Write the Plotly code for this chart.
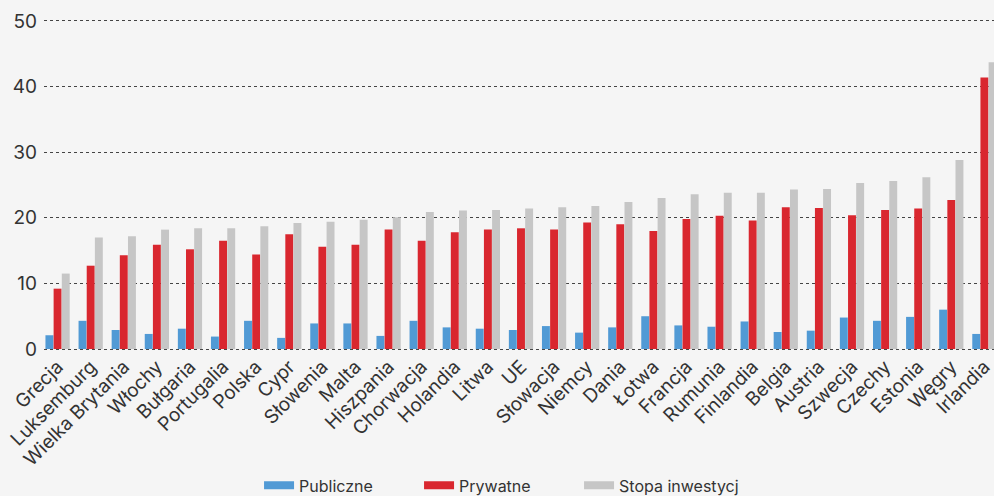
import plotly.graph_objects as go

countries = ["Grecja", "Luksemburg", "Wielka Brytania", "Włochy", "Bułgaria", "Portugalia",
             "Polska", "Cypr", "Słowenia", "Malta", "Hiszpania", "Chorwacja", "Holandia",
             "Litwa", "UE", "Słowacja", "Niemcy", "Dania", "Łotwa", "Francja", "Rumunia",
             "Finlandia", "Belgia", "Austria", "Szwecja", "Czechy", "Estonia", "Węgry", "Irlandia"]
publiczne = [2.1, 4.3, 2.9, 2.3, 3.1, 1.9, 4.3, 1.7, 3.9, 3.9, 2.0, 4.3, 3.3, 3.1, 2.9,
             3.5, 2.5, 3.3, 5.0, 3.6, 3.4, 4.2, 2.6, 2.8, 4.8, 4.3, 4.9, 6.0, 2.3]
prywatne = [9.2, 12.7, 14.3, 15.9, 15.2, 16.5, 14.4, 17.5, 15.6, 15.9, 18.2, 16.5, 17.8,
            18.2, 18.4, 18.2, 19.3, 19.0, 18.0, 19.8, 20.3, 19.6, 21.6, 21.5, 20.4, 21.2,
            21.4, 22.7, 41.4]
stopa = [11.5, 17.0, 17.2, 18.2, 18.4, 18.4, 18.7, 19.2, 19.4, 19.7, 20.1, 20.9, 21.1,
         21.2, 21.4, 21.6, 21.8, 22.4, 23.0, 23.6, 23.8, 23.8, 24.3, 24.4, 25.3, 25.6,
         26.2, 28.8, 43.7]
y_ticks = [0, 10, 20, 30, 40, 50]

names = ["Publiczne", "Prywatne", "Stopa inwestycji"]
colors = ["#519ad5", "#d9272f", "#c6c6c6"]
series = [publiczne, prywatne, stopa]

fig = go.Figure()
for name, col, vals in zip(names, colors, series):
    fig.add_trace(go.Bar(x=countries, y=vals, name=name, marker_color=col,
                         marker_line_width=0, showlegend=False))
for name, col in zip(names, colors):
    fig.add_trace(go.Scatter(x=[None], y=[None], mode="lines", name=name,
                             line=dict(color=col, width=8), showlegend=True))

font_family = "Inter, Lato, sans-serif"
fig.update_layout(
    width=994, height=496,
    margin=dict(l=44, r=0, t=19, b=145, autoexpand=False),
    paper_bgcolor="#f5f5f5", plot_bgcolor="#f5f5f5",
    barmode="group", bargap=0.26, bargroupgap=0.03,
    font=dict(family=font_family, color="#333333"),
    legend=dict(orientation="h", x=0.479, xanchor="center", y=-0.405, yanchor="middle",
                font=dict(size=16, color="#333333"), entrywidth=115,
                bgcolor="rgba(0,0,0,0)"),
)
fig.update_xaxes(type="category", range=[-0.41, 28.29], tickangle=-45,
                 tickfont=dict(size=19, color="#333333"), showgrid=False,
                 ticks="", showline=False)
fig.update_yaxes(range=[-0.3, 50.3], tickvals=y_ticks, tickfont=dict(size=19, color="#333333"),
                 showgrid=True, gridcolor="#444444", griddash="dot", gridwidth=1,
                 zeroline=False, showline=False, ticks="", ticklabelstandoff=6)

fig.write_html("out.html")
